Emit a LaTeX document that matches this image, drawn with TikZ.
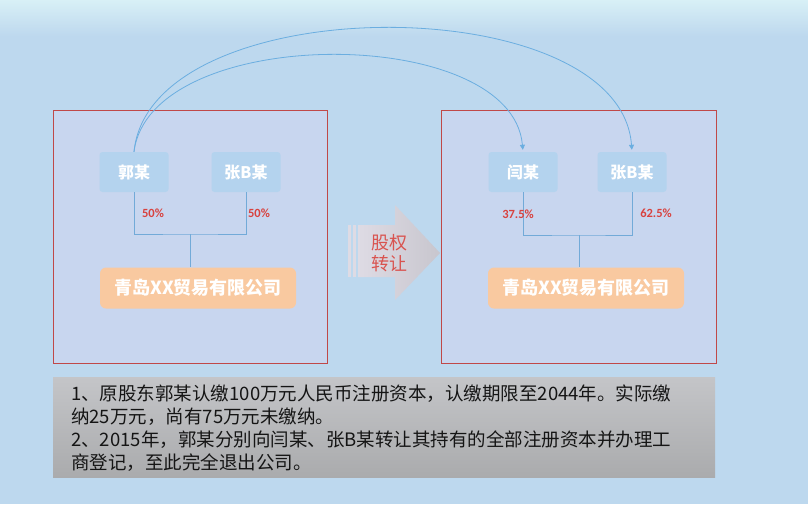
\documentclass[tikz,border=0pt]{standalone}
\usepackage{fontspec}
\newfontfamily\cjk{Noto Sans CJK SC}
\newfontfamily\lat{Carlito}
\usetikzlibrary{arrows.meta}
\definecolor{bgblue}{HTML}{BDD8EE}
\definecolor{topband}{HTML}{D8F0F6}
\definecolor{framered}{HTML}{C04848}
\definecolor{boxfill}{HTML}{C8D6EF}
\definecolor{personblue}{HTML}{B4D3EE}
\definecolor{orangebox}{HTML}{F9C9A0}
\definecolor{connblue}{HTML}{72AAD8}
\definecolor{arcblue}{HTML}{6BAEE0}
\definecolor{pctred}{HTML}{D8423F}
\definecolor{xferred}{HTML}{D9534F}
\definecolor{notetop}{HTML}{C4C5C8}
\definecolor{notebot}{HTML}{AAABAD}
\definecolor{textdark}{HTML}{151515}
\definecolor{arrowl}{HTML}{DEDBE4}
\definecolor{arrowr}{HTML}{C8C6CE}
\tikzset{
  frame/.style={draw=framered, line width=0.8pt, fill=boxfill},
  person/.style={minimum width=69pt, minimum height=40pt, rounded corners=3pt, fill=personblue, text=white, inner sep=0pt, font=\cjk\bfseries\fontsize{16}{16}\selectfont},
  org/.style={minimum width=196pt, minimum height=41pt, rounded corners=6pt, fill=orangebox, text=white, inner sep=0pt, font=\cjk\bfseries\fontsize{18}{18}\selectfont},
  conn/.style={draw=connblue, line width=0.6pt},
  arcline/.style={draw=arcblue, line width=0.8pt, -{Triangle[width=5pt,length=5pt]}, shorten >=2pt},
  pct/.style={text=pctred, inner sep=0pt, font=\lat\bfseries\fontsize{12.5}{12.5}\selectfont},
  xfer/.style={text=xferred, inner sep=0pt, align=center, font=\cjk\fontsize{18}{21}\selectfont},
  notes/.style={text=textdark, inner sep=0pt, align=left, anchor=west, font=\cjk\fontsize{18.5}{23}\selectfont}
}
\begin{document}
\begin{tikzpicture}[x=1pt,y=-1pt]
\useasboundingbox (0,0) rectangle (808,504);
\fill[bgblue] (0,0) rectangle (808,504);
\shade[top color=topband, bottom color=bgblue] (0,0) rectangle (808,36);
% frames
\draw[frame] (53,110) rectangle (327,363);
\draw[frame] (441,110) rectangle (716,363);
% left nodes
\node[person] (g1) at (134,172) {郭某};
\node[person] (z1) at (246,172) {张B某};
\node[org] (o1) at (198,288) {青岛XX贸易有限公司};
\coordinate (j1) at (190.5,234);
\draw[conn] (g1.south) |- (j1) -| (z1.south);
\draw[conn] (j1) -- (j1 |- o1.north);
\node[pct] (p1) at (153,213) {50\%};
\node[pct] (p2) at (259,213) {50\%};
% right nodes
\node[person] (y2) at (523,172) {闫某};
\node[person] (z2) at (632,172) {张B某};
\node[org] (o2) at (586,288) {青岛XX贸易有限公司};
\coordinate (j2) at (579.5,235);
\draw[conn] (y2.south) |- (j2) -| (z2.south);
\draw[conn] (j2) -- (j2 |- o2.north);
\node[pct] (p3) at (518,214) {37.5\%};
\node[pct] (p4) at (656,213) {62.5\%};
% arcs
\draw[arcline] (g1.north) .. controls (150,-13) and (620,-13) .. (z2.north);
\draw[arcline] (g1.north) .. controls (150,23) and (512,23) .. (y2.north);
% transfer arrow
\fill[arrowl] (348,225) rectangle (351,277);
\fill[arrowl] (353,225) rectangle (356,277);
\shade[left color=arrowl, right color=arrowr] (358,225) -- (395,225) -- (395,205) -- (440,253) -- (395,300) -- (395,277) -- (358,277) -- cycle;
\node[xfer] (t) at (389,253.5) {股权\\转让};
% notes
\shade[top color=notetop, bottom color=notebot] (53,377) rectangle (715,477);
\node[notes] (n) at (71,428.5) {1、原股东郭某认缴100万元人民币注册资本，认缴期限至2044年。实际缴\\纳25万元，尚有75万元未缴纳。\\2、2015年，郭某分别向闫某、张B某转让其持有的全部注册资本并办理工\\商登记，至此完全退出公司。};
\end{tikzpicture}
\end{document}
